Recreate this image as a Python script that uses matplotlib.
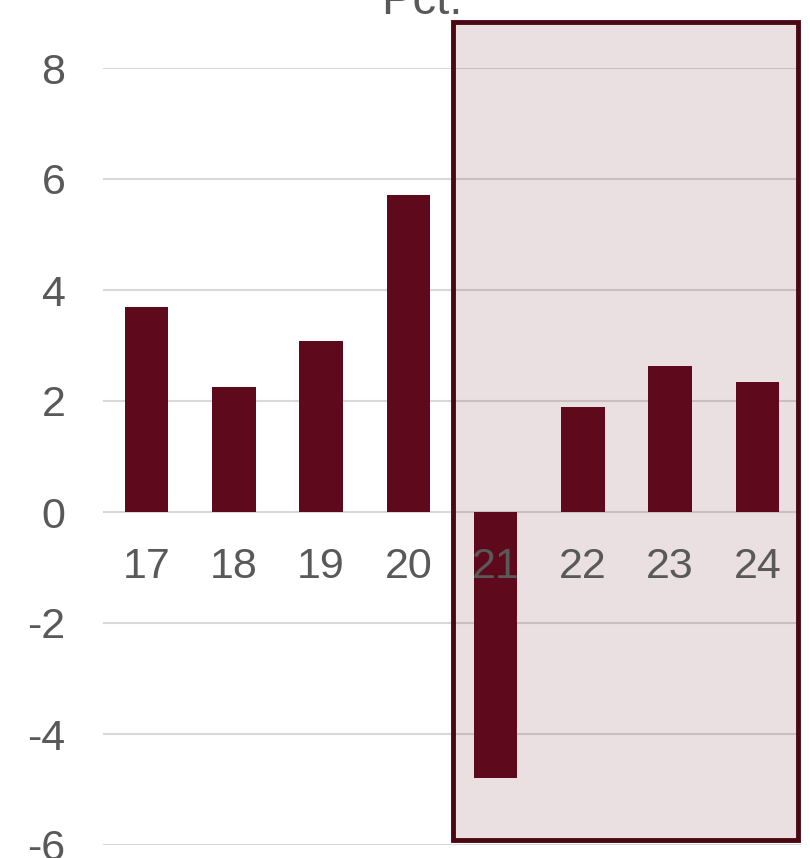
import matplotlib.pyplot as plt
from matplotlib.patches import Rectangle

plt.rcParams['font.family'] = ['Liberation Sans', 'DejaVu Sans']

years = ['17', '18', '19', '20', '21', '22', '23', '24']
growth = [3.69, 2.25, 3.08, 5.71, -4.79, 1.89, 2.63, 2.34]
yticks = [-6, -4, -2, 0, 2, 4, 6, 8]

bar_color = '#5f0a1c'
text_color = '#595959'

fig = plt.figure(figsize=(8.1, 8.58), dpi=100)
ax = fig.add_axes([103 / 810, 1 - 845 / 858, 698 / 810, 777 / 858])

x = range(len(years))

# gridlines by hand so the bars sit on top of them
for t in yticks:
    ax.axhline(t, color='#d9d9d9', lw=1.5, zorder=0.5)

# shaded forecast period
box = Rectangle((3.51, -5.91), 3.96, 14.74, facecolor=bar_color, alpha=0.13,
                edgecolor='none', zorder=0.8, clip_on=False)
ax.add_patch(box)
frame = Rectangle((3.51, -5.91), 3.96, 14.74, facecolor='none',
                  edgecolor='#4a0812', lw=3.5, zorder=0.9, clip_on=False)
ax.add_patch(frame)

ax.bar(x, growth, width=0.5, color=bar_color, zorder=1)

ax.set_xlim(-0.5, 7.5)
ax.set_ylim(-6, 8)
ax.set_xticks(list(x))
ax.set_xticklabels(years)
ax.set_yticks(yticks)
ax.set_yticklabels([str(t) for t in yticks])

for s in ax.spines.values():
    s.set_visible(False)
ax.spines['bottom'].set_position(('data', 0))

ax.tick_params(axis='x', length=0, pad=25.5, labelsize=31, labelcolor=text_color)
ax.tick_params(axis='y', length=0, pad=27, labelsize=31, labelcolor=text_color)

fig.text(422 / 810, 1 - 14 / 858, 'Pct.', ha='center', va='baseline',
         fontsize=34, color=text_color)

fig.savefig('out.png', dpi=100)
